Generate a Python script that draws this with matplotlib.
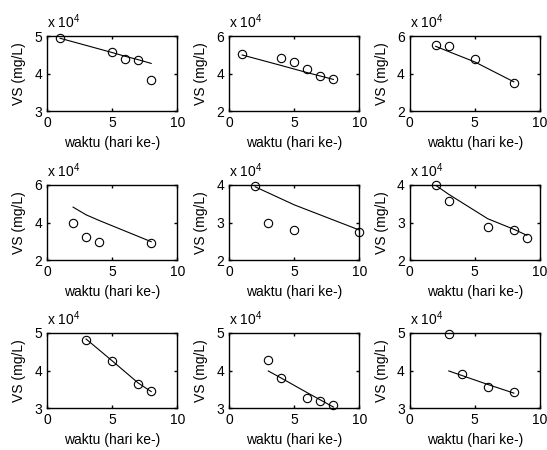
import matplotlib
matplotlib.use('Agg')
import matplotlib.pyplot as plt
from matplotlib.ticker import FuncFormatter

plt.rcParams['font.family'] = ['Liberation Sans', 'DejaVu Sans']
plt.rcParams['mathtext.fontset'] = 'custom'
plt.rcParams['mathtext.rm'] = 'Liberation Sans'
plt.rcParams['font.size'] = 10

# hari pengamatan, VS terukur dan hasil fitting (mg/L), per panel
x1 = [1, 5, 6, 7, 8]
vs1 = [49600, 45800, 43800, 43500, 38200]
fit1 = [49400, 45600, 44600, 43700, 42700]

x2 = [1, 4, 5, 6, 7, 8]
vs2 = [50200, 48400, 46000, 42200, 38800, 37100]
fit2 = [49900, 44300, 42400, 40500, 38700, 36900]

x3 = [2, 3, 5, 8]
vs3 = [55200, 54700, 47700, 35100]
fit3 = [54500, 51700, 46200, 35600]

x4 = [2, 3, 4, 8]
vs4 = [39600, 32500, 29600, 28900]
fit4 = [48200, 44100, 41100, 29800]

x5 = [2, 3, 5, 10]
vs5 = [39700, 29800, 27900, 27600]
fit5 = [39500, 37900, 34700, 28000]

x6 = [2, 3, 6, 8, 9]
vs6 = [39900, 35800, 28800, 27900, 26000]
fit6 = [39900, 37500, 31000, 28200, 26600]

x7 = [3, 5, 7, 8]
vs7 = [48200, 42500, 36500, 34600]
fit7 = [48400, 42600, 36700, 34400]

x8 = [3, 4, 6, 7, 8]
vs8 = [42800, 37900, 32600, 31800, 30800]
fit8 = [39900, 38000, 34100, 32200, 30300]

x9 = [3, 4, 6, 8]
vs9 = [49700, 39000, 35600, 34200]
fit9 = [39900, 38700, 36300, 34000]

panels = [(x1, vs1, fit1, (30000, 50000)),
          (x2, vs2, fit2, (20000, 60000)),
          (x3, vs3, fit3, (20000, 60000)),
          (x4, vs4, fit4, (20000, 60000)),
          (x5, vs5, fit5, (20000, 40000)),
          (x6, vs6, fit6, (20000, 40000)),
          (x7, vs7, fit7, (30000, 50000)),
          (x8, vs8, fit8, (30000, 50000)),
          (x9, vs9, fit9, (30000, 50000))]

fig = plt.figure(figsize=(5.47, 4.5), dpi=100)

lefts = [0.086, 0.419, 0.749]
bottoms = [0.753, 0.422, 0.093]
w, h = 0.238, 0.167

for i, (x, vs, fit, yl) in enumerate(panels):
    ax = fig.add_axes([lefts[i % 3], bottoms[i // 3], w, h])
    ax.plot(x, fit, 'k-', lw=0.8)
    ax.plot(x, vs, 'ko', mfc='none', ms=6, mew=0.8, clip_on=False)
    ax.set_xlim(0, 10)
    ax.set_ylim(*yl)
    ax.set_xticks([0, 5, 10])
    ax.set_yticks([yl[0], (yl[0] + yl[1]) / 2, yl[1]])
    ax.yaxis.set_major_formatter(FuncFormatter(lambda v, p: '%g' % (v / 1e4)))
    ax.tick_params(direction='in', length=2.5, width=1, top=True, right=True, pad=3.5)
    for s in ax.spines.values():
        s.set_linewidth(1.0)
    ax.set_xlabel('waktu (hari ke-)', labelpad=4)
    ax.set_ylabel('VS (mg/L)', labelpad=6)
    ax.text(0.0, 1.06, r'x 10$^4$', transform=ax.transAxes, ha='left', va='bottom')

fig.savefig('out.png', dpi=100)
